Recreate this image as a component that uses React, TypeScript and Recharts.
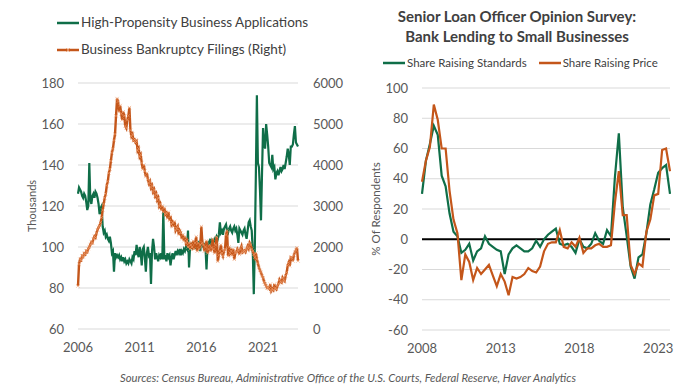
import React from "react";
import {
  LineChart,
  Line,
  XAxis,
  YAxis,
  CartesianGrid,
  Legend,
  ReferenceLine,
} from "recharts";

const GREEN = "#0F6E48";
const ORANGE = "#C4561A";
const MARK = "#EE9A6A";
const TEXT = "#595959";
const DARK = "#404040";
const GRID = "#D9D9D9";
const FONT = "Lato, 'Open Sans', sans-serif";

// monthly, Jan 2006 onwards (thousands)
const applicationsStart = 2006;
const applications = [
  126, 129, 128, 127, 125, 124, 126, 125, 122, 118, 120, 141,
  123, 121, 125, 126, 124, 127, 126, 124, 121, 116, 119, 120,
  110, 107, 108, 105, 106, 104, 103, 105, 102, 97, 98, 88,
  97, 95, 96, 95, 96, 94, 95, 93, 95, 93, 94, 92,
  93, 92, 94, 93, 92, 95, 94, 98, 96, 101, 97, 95,
  100, 97, 91, 99, 100, 95, 88, 97, 100, 96, 97, 82,
  98, 104, 100, 94, 97, 95, 93, 96, 95, 97, 94, 118,
  94, 96, 93, 97, 95, 96, 91, 95, 97, 94, 96, 98,
  96, 98, 97, 99, 96, 98, 97, 99, 98, 100, 99, 108,
  90, 100, 101, 99, 102, 100, 101, 99, 102, 100, 103, 98,
  107, 101, 100, 102, 100, 89, 101, 102, 103, 101, 104, 102,
  103, 104, 102, 105, 104, 106, 112, 107, 108, 106, 109, 110,
  111, 108, 107, 109, 110, 108, 107, 109, 110, 108, 109, 106,
  102, 109, 108, 107, 106, 108, 109, 106, 104, 108, 112, 113,
  110, 108, 98, 77, 100, 135, 174, 141, 139, 128, 113, 136,
  158, 150, 148, 160, 155, 149, 141, 140, 139, 145, 138, 139,
  133, 136, 137, 135, 137, 139, 137, 138, 140, 138, 141, 144,
  148, 145, 140, 149, 149, 150, 155, 159, 151, 150, 149,
];

// monthly business bankruptcy filings
const bankruptcies = [
  1050, 1580, 1700, 1680, 1780, 1760, 1840, 1820, 1900, 1880, 1960, 2000,
  2060, 2120, 2100, 2200, 2260, 2230, 2340, 2420, 2480, 2520, 2600, 2720,
  2900, 3050, 3200, 3300, 3500, 3600, 3800, 3900, 4100, 4300, 4400, 4600,
  4750, 5200, 5620, 5550, 5300, 5450, 5250, 5100, 5300, 5200, 4950, 4900,
  5100, 5200, 5400, 4850, 4700, 4750, 4600, 4620, 4550, 4580, 4350, 4400,
  4200, 4250, 4050, 3900, 4000, 3850, 3720, 3800, 3650, 3550, 3600, 3450,
  3500, 3350, 3400, 3250, 3300, 3150, 3200, 3000, 3050, 2900, 3000, 2850,
  2950, 2800, 2830, 2700, 2850, 2650, 2750, 2550, 2600, 2500, 2620, 2400,
  2450, 2500, 2300, 2400, 2350, 2200, 2300, 2150, 2250, 2100, 2150, 2000,
  2100, 1950, 2050, 2000, 2150, 1950, 2100, 2250, 1900, 2100, 1950, 2050,
  2500, 2100, 2050, 1900, 2000, 2150, 1850, 1950, 2050, 1900, 1980, 2200,
  1950, 1850, 2050, 2250, 1650, 1800, 1900, 2050, 1850, 1780, 1900, 1950,
  2300, 2400, 1780, 2000, 1850, 1900, 1800, 1950, 1700, 1850, 1880, 1950,
  1900, 1820, 1950, 2020, 1870, 1900, 1920, 1880, 1950, 2020, 1960, 2100,
  2050, 1950, 1900, 1820, 1750, 1850, 1700, 1600, 1500, 1430, 1380, 1300,
  1250, 1150, 1100, 1050, 1000, 1010, 980, 1090, 930, 980, 950, 1090,
  1000, 970, 1050, 1100, 1200, 1150, 1130, 1250, 1200, 1170, 1300, 1380,
  1550, 1620, 1540, 1750, 1740, 1660, 1800, 1870, 1920, 1980, 1660,
];

const businessYearTicks = [2006, 2011, 2016, 2021];
const thousandsTicks = [60, 80, 100, 120, 140, 160, 180];
const filingsTicks = [0, 1000, 2000, 3000, 4000, 5000, 6000];

// quarterly, 2008 Q1 onwards (% of respondents)
const surveyStart = 2008;
const raisingStandards = [
  30, 52, 63, 75, 69, 42, 35, 17, 5, 2, -9, -7,
  -3, -14, -8, -6, 2, -3, -5, -7, -8, -23, -10, -6,
  -4, -6, -8, -8, -6, -1, -5, 0, 3, 5, 7, -3,
  -4, -3, -5, -9, 0, -5, -6, -3, 4, -1, -3, 6,
  2, 41, 70, 21, 2, -18, -26, -12, -10, 4, 23, 33,
  44, 47, 49, 30,
];
const raisingPrice = [
  38, 52, 61, 89, 79, 60, 60, 32, 13, 4, -27, -10,
  -15, -27, -19, -23, -20, -17, -24, -31, -23, -28, -37, -25,
  -26, -25, -23, -19, -21, -22, -18, -8, -3, -2, -2, 6,
  -5, -6, -2, -5, 1, -9, -6, -6, -4, -3, -5, -5,
  -4, 24, 45, 16, 16, -17, -23, -16, -18, 5, 13, 29,
  30, 59, 60, 45,
];
const surveyYearTicks = [2008, 2013, 2018, 2023];
const respondentTicks = [-60, -40, -20, 0, 20, 40, 60, 80, 100];

const businessRows = applications.map((v, i) => ({
  t: applicationsStart + i / 12,
  apps: v,
  filings: bankruptcies[i],
}));
const businessEnd = applicationsStart + (applications.length - 1) / 12;

const surveyRows = raisingStandards.map((v, i) => ({
  t: surveyStart + i / 4,
  standards: v,
  price: raisingPrice[i],
}));
const surveyEnd = surveyStart + (raisingStandards.length - 1) / 4;

const tick = { fill: TEXT, fontSize: 13 };

const renderCross = (p: any) => {
  const { cx, cy, index } = p;
  if (cx == null || cy == null) return <g key={index} />;
  const s = 1.7;
  return (
    <path
      key={index}
      d={`M${cx - s},${cy - s}L${cx + s},${cy + s}M${cx - s},${cy + s}L${cx + s},${cy - s}`}
      stroke={MARK}
      strokeWidth={0.6}
      fill="none"
    />
  );
};

function Swatch({ color, cross }: { color: string; cross?: boolean }) {
  return (
    <svg width={22} height={10} style={{ marginRight: 2 }}>
      <line x1={0} y1={5} x2={22} y2={5} stroke={color} strokeWidth={2.5} />
      {cross && (
        <path d="M9,3L13,7M9,7L13,3" stroke={MARK} strokeWidth={0.8} />
      )}
    </svg>
  );
}

const BusinessLegend = () => (
  <div style={{ color: DARK, fontSize: 13.5, lineHeight: "27px" }}>
    <div style={{ display: "flex", alignItems: "center" }}>
      <Swatch color={GREEN} />
      High-Propensity Business Applications
    </div>
    <div style={{ display: "flex", alignItems: "center" }}>
      <Swatch color={ORANGE} cross />
      Business Bankruptcy Filings (Right)
    </div>
  </div>
);

const SurveyLegend = () => (
  <div style={{ display: "flex", alignItems: "center", color: DARK, fontSize: 11.5 }}>
    <Swatch color={GREEN} />
    <span style={{ marginRight: 12 }}>Share Raising Standards</span>
    <Swatch color={ORANGE} />
    <span>Share Raising Price</span>
  </div>
);

export default function App() {
  return (
    <div
      style={{
        position: "absolute",
        left: 0,
        top: 0,
        width: 700,
        height: 392,
        background: "#fff",
        fontFamily: FONT,
      }}
    >
      <div style={{ position: "absolute", left: 0, top: 0 }}>
        <LineChart
          width={350}
          height={392}
          data={businessRows}
          margin={{ top: 83, right: 0, bottom: 0, left: 0 }}
        >
          <CartesianGrid yAxisId="left" vertical={false} stroke={GRID} />
          <XAxis
            dataKey="t"
            type="number"
            domain={[applicationsStart, businessEnd]}
            ticks={businessYearTicks}
            tickLine={false}
            axisLine={false}
            height={63}
            tickMargin={8}
            tick={tick}
          />
          <YAxis
            yAxisId="left"
            domain={[60, 180]}
            ticks={thousandsTicks}
            width={78}
            tickLine={false}
            axisLine={false}
            tickMargin={8}
            tick={tick}
            label={{
              value: "Thousands",
              angle: -90,
              position: "center",
              dx: -7,
              style: { fill: TEXT, fontSize: 11 },
            }}
          />
          <YAxis
            yAxisId="right"
            orientation="right"
            domain={[0, 6000]}
            ticks={filingsTicks}
            width={52}
            tickLine={false}
            axisLine={false}
            tickMargin={9}
            tick={tick}
          />
          <Legend
            layout="horizontal"
            verticalAlign="middle"
            align="center"
            content={BusinessLegend}
            wrapperStyle={{ top: 9, left: 57, width: 280 }}
          />
          <Line
            yAxisId="left"
            dataKey="apps"
            stroke={GREEN}
            strokeWidth={2.2}
            dot={false}
            isAnimationActive={false}
          />
          <Line
            yAxisId="right"
            dataKey="filings"
            stroke={ORANGE}
            strokeWidth={2.4}
            dot={renderCross}
            isAnimationActive={false}
          />
        </LineChart>
      </div>

      <div
        style={{
          position: "absolute",
          left: 350,
          top: 6,
          width: 334,
          textAlign: "center",
          color: DARK,
          fontWeight: 700,
          fontSize: 15,
          lineHeight: "20px",
        }}
      >
        Senior Loan Officer Opinion Survey:
        <br />
        Bank Lending to Small Businesses
      </div>

      <div style={{ position: "absolute", left: 350, top: 0 }}>
        <LineChart
          width={350}
          height={392}
          data={surveyRows}
          margin={{ top: 88, right: 30, bottom: 0, left: 0 }}
        >
          <CartesianGrid vertical={false} stroke={GRID} />
          <XAxis
            dataKey="t"
            type="number"
            domain={[surveyStart, surveyEnd]}
            ticks={surveyYearTicks}
            tickLine={false}
            axisLine={false}
            height={62}
            tickMargin={8}
            tick={tick}
          />
          <YAxis
            domain={[-60, 100]}
            ticks={respondentTicks}
            width={72}
            tickLine={false}
            axisLine={false}
            tickMargin={8}
            tick={tick}
            label={{
              value: "% Of Respondents",
              angle: -90,
              position: "center",
              dx: -10,
              style: { fill: TEXT, fontSize: 11.5 },
            }}
          />
          <Legend
            layout="horizontal"
            verticalAlign="middle"
            align="center"
            content={SurveyLegend}
            wrapperStyle={{ top: 56, left: 33, width: 320 }}
          />
          <ReferenceLine y={0} stroke="#000" strokeWidth={2.2} />
          <Line
            dataKey="standards"
            stroke={GREEN}
            strokeWidth={2.2}
            dot={false}
            isAnimationActive={false}
          />
          <Line
            dataKey="price"
            stroke={ORANGE}
            strokeWidth={2.2}
            dot={false}
            isAnimationActive={false}
          />
        </LineChart>
      </div>

      <svg
        width={700}
        height={30}
        style={{ position: "absolute", left: 0, top: 366 }}
      >
        <text
          x={348}
          y={16}
          textAnchor="middle"
          fontSize={11}
          fontStyle="italic"
          fill={TEXT}
          textLength={456}
          lengthAdjust="spacingAndGlyphs"
        >
          Sources: Census Bureau, Administrative Office of the U.S. Courts, Federal Reserve, Haver Analytics
        </text>
      </svg>
    </div>
  );
}
